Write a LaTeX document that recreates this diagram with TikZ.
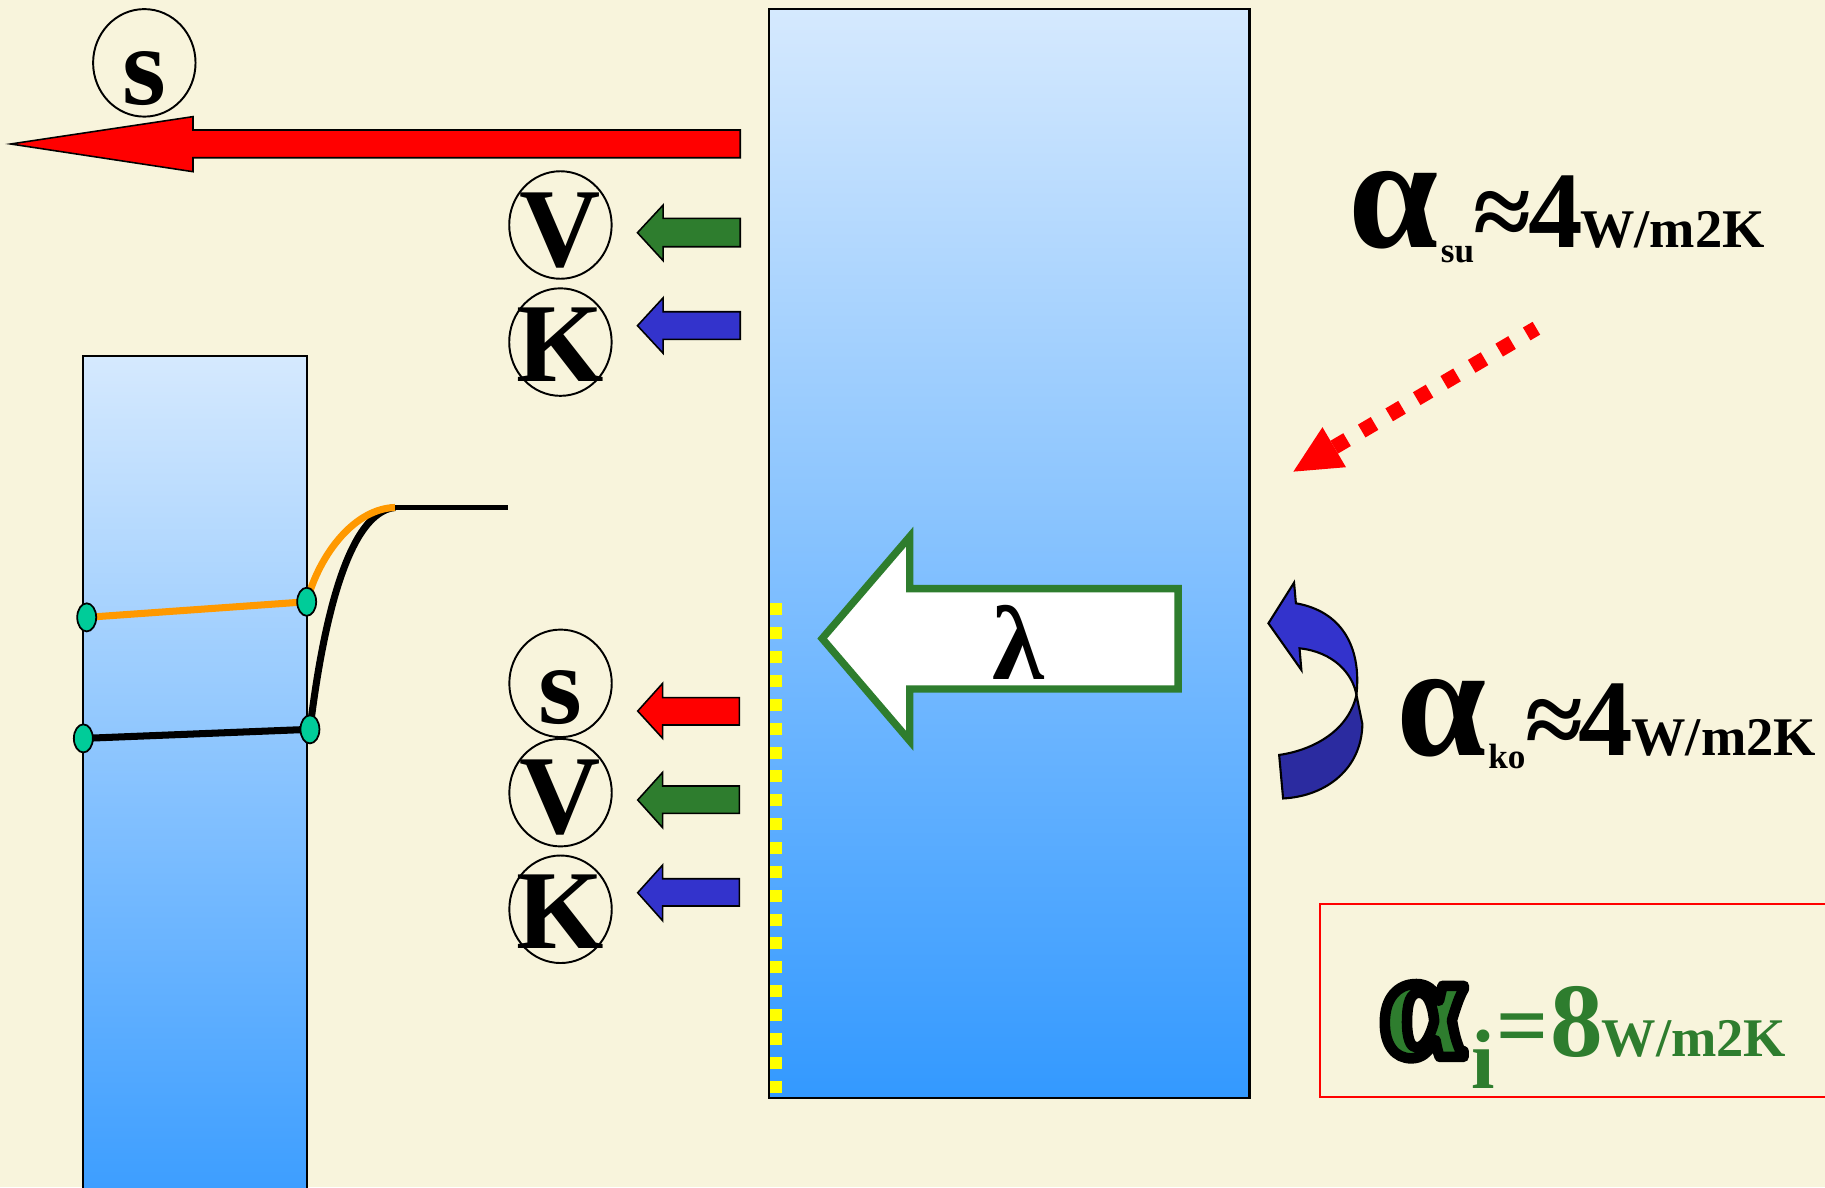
\documentclass[tikz,border=0pt]{standalone}
\usepackage{fontspec}
\setmainfont{Liberation Serif}
\newfontface\tb{Liberation Serif Bold}
\usetikzlibrary{shapes.geometric}
\definecolor{bg}{RGB}{248,244,220}
\definecolor{dgreen}{RGB}{46,125,46}
\definecolor{kblue}{RGB}{51,51,204}
\definecolor{kblue2}{RGB}{43,43,160}
\definecolor{orng}{RGB}{255,153,0}
\definecolor{dotg}{RGB}{0,204,153}
\definecolor{rtop}{RGB}{213,233,254}
\definecolor{rbot}{RGB}{51,153,255}
\definecolor{ylw}{RGB}{255,255,0}
\tikzset{
  txt/.style={inner sep=0pt, outer sep=0pt, anchor=base west},
  fs/.style={font=\tb\fontsize{#1}{#1}\selectfont},
  ring/.style={ellipse, draw=black, line width=0.55pt, minimum width=29.15pt, minimum height=30.6pt, inner sep=0pt},
  dotn/.style={ellipse, draw=black, line width=0.5pt, fill=dotg, minimum width=5.4pt, minimum height=8pt, inner sep=0pt},
  barrow/.style={draw=black, line width=0.45pt, line join=miter},
  thickline/.style={line width=2pt},
}
\begin{document}
\begin{tikzpicture}[x=0.011639cm, y=-0.011639cm]
\useasboundingbox (0,0) rectangle (1568,1020);
\fill[bg] (0,0) rectangle (1568,1020);

% ---- left small wall ----
\shade[top color=rtop, bottom color=rbot!95!white] (71.6,305.9) rectangle (263.6,1020);
\draw[line width=0.6pt] (71.6,1021) -- (71.6,305.9) -- (263.6,305.9) -- (263.6,1021);

\coordinate (p1) at (74.5,530.4);
\coordinate (p2) at (263.5,517);
\coordinate (p3) at (71.6,634.4);
\coordinate (p4) at (266.3,626.6);
\coordinate (pe) at (339.4,436);
\coordinate (pf) at (436.7,436);
\draw[thickline, black] (p4) .. controls (278,530) and (300,440) .. (pe);
\draw[thickline, orng] (p2) .. controls (275,475) and (305,437) .. (pe);
\draw[line width=1.5pt, black] (pe) -- (pf);
\draw[thickline, orng] (p1) -- (p2);
\draw[thickline, black] (p3) -- (p4);
\node[dotn] (d1) at (p1) {};
\node[dotn] (d2) at (p2) {};
\node[dotn] (d3) at (p3) {};
\node[dotn] (d4) at (p4) {};

% ---- big wall ----
\shade[top color=rtop, bottom color=rbot] (661,8) rectangle (1073.5,943);
\draw[line width=0.6pt] (661,8) rectangle (1073.5,943);
\draw[ylw, line width=3.5pt, dash pattern=on 3.41pt off 3.38pt] (666.5,518.4) -- (666.5,943);

% lambda arrow
\draw[draw=dgreen, fill=white, line width=2.1pt, line join=miter]
  (706.4,548.6) -- (781.6,461) -- (781.6,505.7) -- (1012.2,505.7) -- (1012.2,592)
  -- (781.6,592) -- (781.6,636.5) -- cycle;
\node[txt, anchor=base, fs=30] (lam) at (875,583.6) {λ};

% ---- top big red arrow ----
\draw[barrow, fill=red] (636,111.7) -- (165.8,111.7) -- (165.8,100.2) -- (9.2,123.7)
  -- (165.8,147.5) -- (165.8,135.5) -- (636,135.5) -- cycle;
\node[ring] (cS1) at (124,54) {};
\node[txt, anchor=base, fs=32] (tS1) at (124,89.4) {s};

% ---- top V, K ----
\node[ring] (cV1) at (481.5,193.3) {};
\node[txt, anchor=base, fs=32] (tV1) at (481.5,229) {V};
\node[ring] (cK1) at (481.5,293.9) {};
\node[txt, anchor=base, fs=32] (tK1) at (481.5,327.4) {K};
\draw[barrow, fill=dgreen] (636,187.6) -- (569.8,187.6) -- (569.8,176.1) -- (547.7,199.9)
  -- (569.8,224) -- (569.8,212) -- (636,212) -- cycle;
\draw[barrow, fill=kblue] (636,267.8) -- (569.8,267.8) -- (569.8,255.8) -- (547.7,279.8)
  -- (569.8,303.6) -- (569.8,291.6) -- (636,291.6) -- cycle;

% ---- lower S, V, K ----
\node[ring] (cS2) at (481.6,587.1) {};
\node[txt, anchor=base, fs=32] (tS2) at (481.6,622) {s};
\node[ring] (cV2) at (481.6,681) {};
\node[txt, anchor=base, fs=32] (tV2) at (481.6,716) {V};
\node[ring] (cK2) at (481.6,781.2) {};
\node[txt, anchor=base, fs=32] (tK2) at (481.6,814.8) {K};
\draw[barrow, fill=red] (635.2,599.4) -- (569.3,599.4) -- (569.3,587.1) -- (547.9,610.9)
  -- (569.3,634.3) -- (569.3,622.9) -- (635.2,622.9) -- cycle;
\draw[barrow, fill=dgreen] (635.2,675.3) -- (569.3,675.3) -- (569.3,663.6) -- (547.9,687.3)
  -- (569.3,711.1) -- (569.3,698.8) -- (635.2,698.8) -- cycle;
\draw[barrow, fill=kblue] (635.2,755) -- (569.3,755) -- (569.3,743.2) -- (547.9,767)
  -- (569.3,791) -- (569.3,778.4) -- (635.2,778.4) -- cycle;

% ---- dotted red arrow ----
\coordinate (rb) at (1146.3,384.2);
\coordinate (rs) at (1320,282);
\draw[red, line width=4.24pt, dash pattern=on 4.24pt off 4.84pt] (rb) -- (rs);
\fill[red] (1111.2,405.2) -- (1136.2,367) -- (1156.4,401.4) -- cycle;

% ---- blue curved arrow ----
\draw[fill=kblue2, line width=0.6pt] (1165.4,597) -- (1170.5,622) .. controls (1170,660) and (1140,684) .. (1102.4,686)
  -- (1099,648.6) .. controls (1125,645) and (1158,630) .. (1165.4,597) -- cycle;
\draw[fill=kblue, line width=0.6pt, line join=miter] (1113.4,518.3) -- (1111.8,500.6) -- (1089.8,535.5) -- (1118.1,575.6)
  -- (1116.5,557) .. controls (1145,560) and (1162,578) .. (1165.4,597)
  .. controls (1170,555) and (1152,525) .. (1113.4,518.3) -- cycle;

% ---- alpha su ----
\node[txt, fs=46] (a1) at (1159,213) {α};
\node[txt, fs=10] (a1s) at (1238,225.4) {su};
\node[txt, fs=30] (a1e) at (1266,213) {≈};
\node[txt, fs=31] (a1n) at (1313.5,213) {4};
\node[txt, fs=15.5] (a1u) at (1357.5,213) {W/m2K};

% ---- alpha ko ----
\node[txt, fs=46] (a2) at (1200,649) {α};
\node[txt, fs=10] (a2s) at (1278.8,660) {ko};
\node[txt, fs=30] (a2e) at (1310.5,649) {≈};
\node[txt, fs=31] (a2n) at (1356,649) {4};
\node[txt, fs=15.5] (a2u) at (1401.7,649) {W/m2K};

% ---- alpha i box ----
\draw[red, line width=0.55pt] (1575,776.7) -- (1134,776.7) -- (1134,942.6) -- (1575,942.6);
\node[txt, anchor=base, fs=44, text=dgreen] (a3) at (1222,908)
  {\special{pdf:code q 2 Tr 3 w 1 j 0 0 0 RG}α\special{pdf:code Q}};
\node[txt, fs=24, text=dgreen] (a3s) at (1264.4,935) {i};
\node[txt, fs=26, text=dgreen] (a3e) at (1286,908) {=};
\node[txt, fs=30, text=dgreen] (a3n) at (1331.7,908) {8};
\node[txt, fs=15.5, text=dgreen] (a3u) at (1376,908) {W/m2K};
\end{tikzpicture}
\end{document}
